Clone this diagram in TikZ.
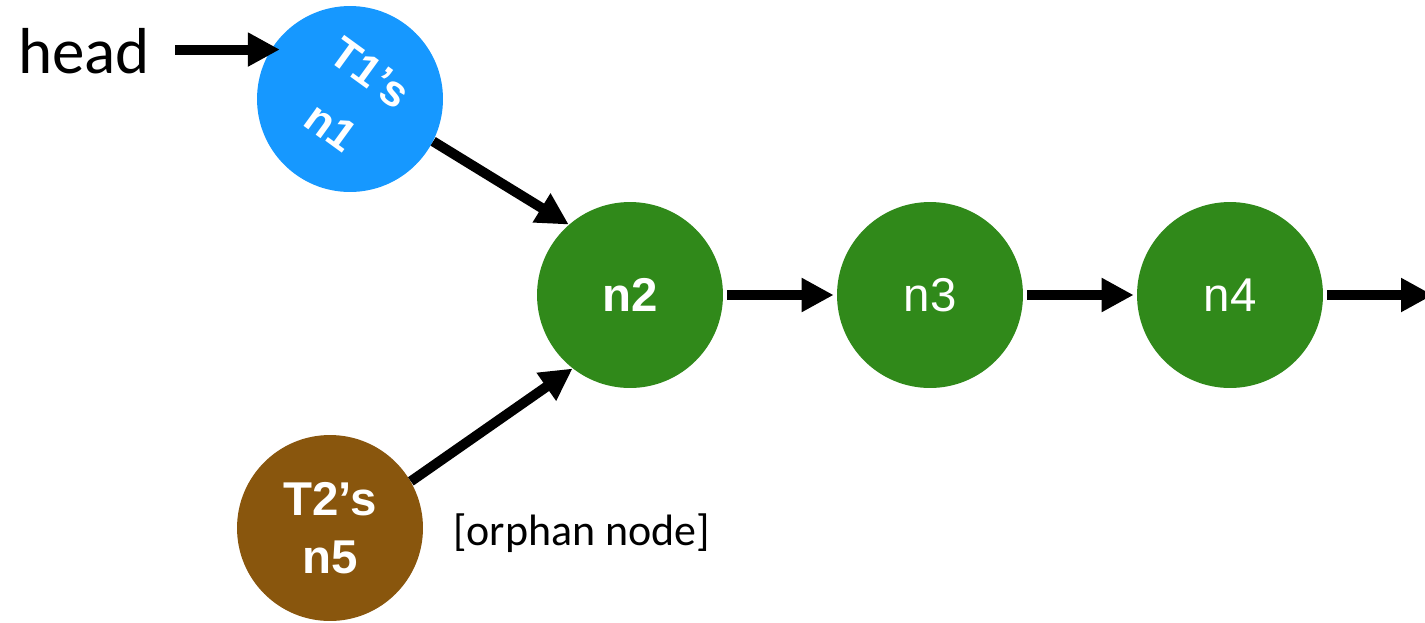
\documentclass[tikz,border=0pt]{standalone}
\usepackage{fontspec}
\setmainfont{Liberation Sans}
\newfontfamily\notefont{Carlito}
\usetikzlibrary{arrows.meta}

\definecolor{nodeblue}{RGB}{22,152,255}
\definecolor{nodegreen}{RGB}{48,137,26}
\definecolor{nodebrown}{RGB}{137,86,13}

\tikzset{
    listnode/.style={circle, minimum size=3.72cm, inner sep=0pt, text=white,
        font=\fontsize{27}{33}\selectfont, align=center},
    boldnode/.style={listnode, font=\bfseries\fontsize{27}{33}\selectfont},
    link/.style={line width=0.2cm, -{Triangle[length=0.64cm, width=0.64cm]}},
    note/.style={inner sep=0pt, font=\notefont}
}

\begin{document}
\begin{tikzpicture}[x=0.02cm, y=-0.02cm]
    \useasboundingbox (0,0) rectangle (1425,622);
    % the list itself
    \node[boldnode, fill=nodeblue] (n1) at (350,99) {};
    \node[text=white, font=\bfseries\fontsize{25}{38}\selectfont, align=center,
        rotate=-36, inner sep=0pt] (n1text) at (351,100) {T1’s\\n1};
    \node[boldnode, fill=nodegreen] (n2) at (630,295) {n2};
    \node[listnode, fill=nodegreen] (n3) at (930,295) {n3};
    \node[listnode, fill=nodegreen] (n4) at (1230,295) {n4};
    \node[boldnode, fill=nodebrown] (n5) at (330,528) {T2’s\\n5};
    \coordinate (tail) at (1433,295);
    % labels
    \node[note, anchor=base west, font=\notefont\fontsize{37}{40}\selectfont] (head) at (18,73) {head};
    \node[note, anchor=base west, font=\notefont\fontsize{25}{28}\selectfont] (orphan) at (453,545) {[orphan node]};
    % pointers
    \draw[link, shorten <=0.5cm, shorten >=-0.18cm] (head.east |- n1.148) -- (n1.148);
    \draw[link] (n1.-27) -- (n2.131);
    \draw[link] (n5.30) -- (n2.-128);
    \foreach \from/\to in {n2/n3, n3/n4}
        \draw[link, shorten <=0.08cm, shorten >=0.06cm] (\from) -- (\to);
    \draw[link, shorten <=0.08cm] (n4) -- (tail);
\end{tikzpicture}
\end{document}
